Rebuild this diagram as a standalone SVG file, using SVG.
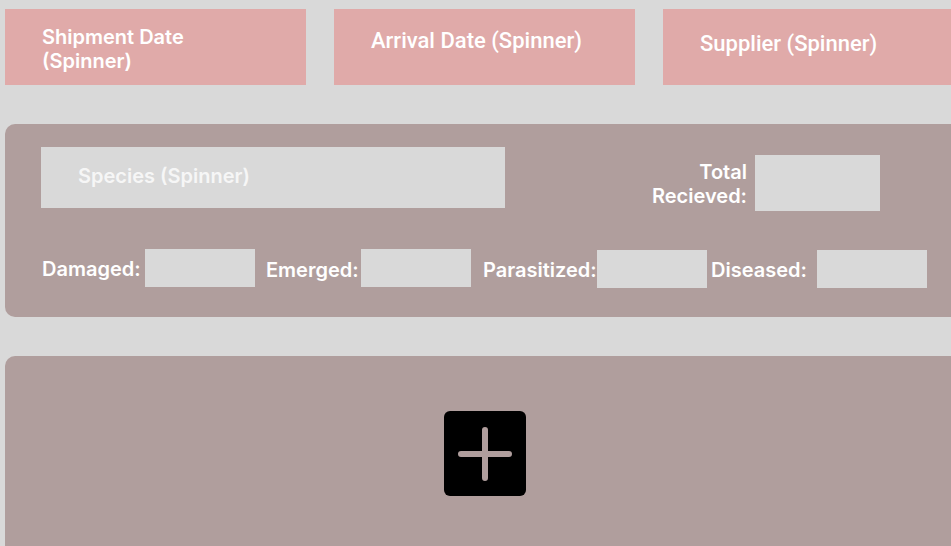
<svg xmlns="http://www.w3.org/2000/svg" width="951" height="546" viewBox="0 0 951 546">
<style>
.top{fill:#e0aaa9}
.panel{fill:#b09e9d}
.field{fill:#d9d9d9}
.t{font-family:Inter,"Noto Sans",sans-serif;font-size:20px;font-weight:600;fill:#ffffff}
.r{font-family:Roboto,"Noto Sans",sans-serif;font-size:22px;font-weight:500;fill:#ffffff}
.sp{fill:#f6f6f6}
</style>
<rect width="951" height="546" fill="#d9d9d9"/>
<g id="shipment-date">
<rect class="top" x="5" y="9" width="301" height="76"/>
<text class="t" x="42" y="44">Shipment Date</text>
<text class="t" x="42" y="68">(Spinner)</text>
</g>
<g id="arrival-date">
<rect class="top" x="334" y="9" width="301" height="76"/>
<text class="r" x="371" y="48">Arrival Date (Spinner)</text>
</g>
<g id="supplier">
<rect class="top" x="663" y="9" width="300" height="76"/>
<text class="r" x="700" y="51">Supplier (Spinner)</text>
</g>
<g id="details-panel">
<rect class="panel" x="5" y="124" width="960" height="193" rx="10"/>
</g>
<g id="species">
<rect class="field" x="41" y="147" width="464" height="61"/>
<text class="t sp" x="78" y="183">Species (Spinner)</text>
</g>
<g id="total-received">
<text class="t" x="747" y="179" text-anchor="end">Total</text>
<text class="t" x="747" y="203" text-anchor="end">Recieved:</text>
<rect class="field" x="755" y="155" width="125" height="56"/>
</g>
<g id="damaged">
<text class="t" x="42" y="276">Damaged:</text>
<rect class="field" x="145" y="249" width="110" height="38"/>
</g>
<g id="emerged">
<text class="t" x="266" y="277">Emerged:</text>
<rect class="field" x="361" y="249" width="110" height="38"/>
</g>
<g id="parasitized">
<text class="t" x="483" y="277">Parasitized:</text>
<rect class="field" x="597" y="250" width="110" height="38"/>
</g>
<g id="diseased">
<text class="t" x="711" y="277">Diseased:</text>
<rect class="field" x="817" y="250" width="110" height="38"/>
</g>
<g id="add-panel">
<rect class="panel" x="5" y="356" width="960" height="210" rx="10"/>
</g>
<g id="add-button">
<rect x="444" y="411" width="82" height="85" rx="6" fill="#000000"/>
<path d="M461 454H509M485 430V478" stroke="#b09e9d" stroke-width="6" stroke-linecap="round" fill="none"/>
</g>
<g id="connectors"></g>
</svg>
